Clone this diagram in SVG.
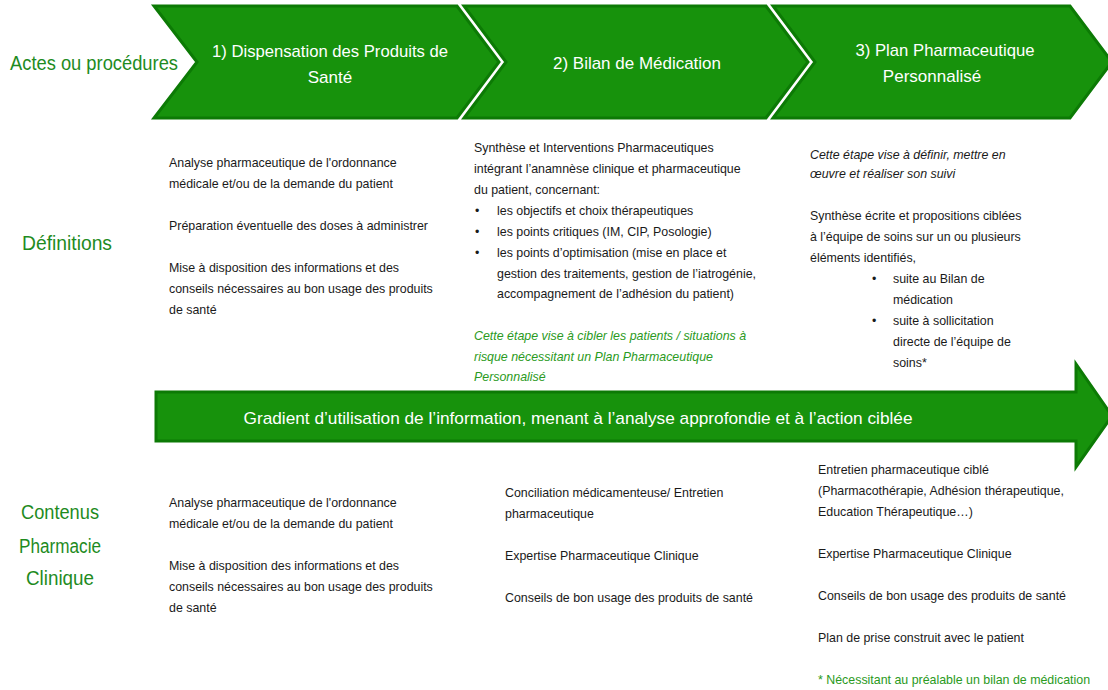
<svg xmlns="http://www.w3.org/2000/svg" width="1108" height="690" viewBox="0 0 1108 690">
<style>
.chev{fill:#17920c;stroke:#0c7a05;stroke-width:3;stroke-linejoin:miter}
.wt{font-family:"Liberation Sans",Arial,sans-serif;fill:#ffffff;font-size:17px}
.lbl{font-family:"Liberation Sans",Arial,sans-serif;fill:#1e8b1e;font-size:20px}
.t{font-family:"Liberation Sans",Arial,sans-serif;fill:#1a1a1a;font-size:12.4px}
.it{font-style:italic}
.g{fill:#2a9a22}
</style>
<rect width="1108" height="690" fill="#ffffff"/>

<g id="row-labels">
<text class="lbl" x="10" y="70" textLength="168" lengthAdjust="spacingAndGlyphs">Actes ou procédures</text>
<text class="lbl" x="22" y="250" textLength="90" lengthAdjust="spacingAndGlyphs">Définitions</text>
<text class="lbl" x="60" y="519" text-anchor="middle" textLength="78" lengthAdjust="spacingAndGlyphs">Contenus</text>
<text class="lbl" x="60" y="553" text-anchor="middle" textLength="82" lengthAdjust="spacingAndGlyphs">Pharmacie</text>
<text class="lbl" x="60" y="585" text-anchor="middle" textLength="68" lengthAdjust="spacingAndGlyphs">Clinique</text>
</g>

<g id="step1">
<polygon class="chev" points="154,6 457,6 499,62 457,118 154,118 197,62"/>
<text class="wt" x="330" y="57" text-anchor="middle" textLength="236" lengthAdjust="spacingAndGlyphs">1) Dispensation des Produits de</text>
<text class="wt" x="330" y="83" text-anchor="middle" font-size="18">Santé</text>
</g>

<g id="step2">
<polygon class="chev" points="464,6 766,6 808,62 766,118 464,118 506,62"/>
<text class="wt" x="637" y="69" text-anchor="middle" textLength="168" lengthAdjust="spacingAndGlyphs">2) Bilan de Médication</text>
</g>

<g id="step3">
<polygon class="chev" points="773,6 1070,6 1112,62 1070,118 773,118 815,62"/>
<text class="wt" x="945" y="56" text-anchor="middle" textLength="179" lengthAdjust="spacingAndGlyphs">3) Plan Pharmaceutique</text>
<text class="wt" x="932" y="82" text-anchor="middle" font-size="18">Personnalisé</text>
</g>

<g id="def1">
<text class="t" x="169" y="167">Analyse pharmaceutique de l'ordonnance</text>
<text class="t" x="169" y="188">médicale et/ou de la demande du patient</text>
<text class="t" x="169" y="230">Préparation éventuelle des doses à administrer</text>
<text class="t" x="169" y="272">Mise à disposition des informations et des</text>
<text class="t" x="169" y="293">conseils nécessaires au bon usage des produits</text>
<text class="t" x="169" y="314">de santé</text>
</g>

<g id="def2">
<text class="t" x="474" y="152">Synthèse et Interventions Pharmaceutiques</text>
<text class="t" x="474" y="173">intégrant l’anamnèse clinique et  pharmaceutique</text>
<text class="t" x="474" y="194">du patient, concernant:</text>
<text class="t" x="475" y="215">•</text><text class="t" x="497" y="215">les objectifs et choix thérapeutiques</text>
<text class="t" x="475" y="236">•</text><text class="t" x="497" y="236">les points critiques (IM, CIP, Posologie)</text>
<text class="t" x="475" y="257">•</text><text class="t" x="497" y="257">les points d’optimisation (mise en place et</text>
<text class="t" x="497" y="278">gestion des traitements, gestion de l’iatrogénie,</text>
<text class="t" x="497" y="298">accompagnement de l’adhésion du patient)</text>
<text class="t it g" x="474" y="340">Cette étape vise à cibler  les patients / situations à</text>
<text class="t it g" x="474" y="361">risque nécessitant un  Plan Pharmaceutique</text>
<text class="t it g" x="474" y="381">Personnalisé</text>
</g>

<g id="def3">
<text class="t it" x="810" y="159">Cette étape vise à  définir, mettre en</text>
<text class="t it" x="810" y="178">œuvre et réaliser son suivi</text>
<text class="t" x="810" y="220">Synthèse écrite et propositions  ciblées</text>
<text class="t" x="810" y="241">à l’équipe de soins  sur un ou plusieurs</text>
<text class="t" x="810" y="262">éléments identifiés,</text>
<text class="t" x="872" y="283">•</text><text class="t" x="893" y="283">suite au Bilan de</text>
<text class="t" x="893" y="304">médication</text>
<text class="t" x="872" y="325">•</text><text class="t" x="893" y="325">suite  à sollicitation</text>
<text class="t" x="893" y="346">directe de l’équipe de</text>
<text class="t" x="893" y="367">soins*</text>
</g>

<g id="gradient-arrow">
<polygon class="chev" points="156,392 1076,392 1076,364 1112,416 1076,467 1076,441 156,441"/>
<text class="wt" x="578" y="424" text-anchor="middle" font-size="19" textLength="669" lengthAdjust="spacingAndGlyphs">Gradient d’utilisation de l’information, menant à l’analyse approfondie et à l’action ciblée</text>
</g>

<g id="content1">
<text class="t" x="169" y="507">Analyse pharmaceutique de l'ordonnance</text>
<text class="t" x="169" y="528">médicale et/ou de la demande du patient</text>
<text class="t" x="169" y="570">Mise à disposition des informations et des</text>
<text class="t" x="169" y="591">conseils nécessaires au bon usage des produits</text>
<text class="t" x="169" y="612">de santé</text>
</g>

<g id="content2">
<text class="t" x="505" y="497">Conciliation  médicamenteuse/ Entretien</text>
<text class="t" x="505" y="518">pharmaceutique</text>
<text class="t" x="505" y="560">Expertise Pharmaceutique Clinique</text>
<text class="t" x="505" y="602">Conseils de bon usage des produits de santé</text>
</g>

<g id="content3">
<text class="t" x="818" y="474">Entretien pharmaceutique ciblé</text>
<text class="t" x="818" y="495">(Pharmacothérapie, Adhésion thérapeutique,</text>
<text class="t" x="818" y="516">Education Thérapeutique…)</text>
<text class="t" x="818" y="558">Expertise Pharmaceutique Clinique</text>
<text class="t" x="818" y="600">Conseils de bon usage des produits de santé</text>
<text class="t" x="818" y="642">Plan de prise construit avec le patient</text>
<text class="t g" x="818" y="684">* Nécessitant au préalable un bilan de médication</text>
</g>
</svg>
